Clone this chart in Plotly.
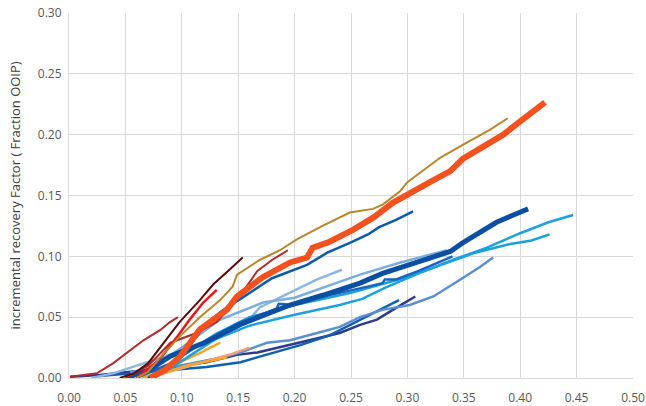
import plotly.graph_objects as go

# ---- data ----
A_x = [0.072, 0.085, 0.098, 0.116, 0.140, 0.149, 0.172, 0.196, 0.211, 0.216, 0.231, 0.252, 0.270, 0.287, 0.320, 0.338, 0.349, 0.364, 0.385, 0.400, 0.422]
A_y = [0.000, 0.0066, 0.017, 0.040, 0.056, 0.067, 0.083, 0.095, 0.099, 0.107, 0.112, 0.122, 0.132, 0.144, 0.161, 0.170, 0.180, 0.188, 0.200, 0.211, 0.2265]

B_x = [0.060, 0.070, 0.081, 0.098, 0.116, 0.134, 0.145, 0.149, 0.169, 0.187, 0.202, 0.2225, 0.249, 0.2695, 0.278, 0.293, 0.300, 0.329, 0.353, 0.373, 0.389]
B_y = [0.000, 0.005, 0.017, 0.034, 0.050, 0.064, 0.075, 0.085, 0.097, 0.105, 0.114, 0.124, 0.136, 0.139, 0.1425, 0.153, 0.161, 0.181, 0.1936, 0.204, 0.2135]

C_x = [0.045, 0.058, 0.070, 0.081, 0.090, 0.098, 0.116, 0.128, 0.141, 0.154]
C_y = [0.000, 0.004, 0.012, 0.025, 0.036, 0.046, 0.064, 0.077, 0.088, 0.099]

D_x = [0.060, 0.080, 0.096, 0.107, 0.119, 0.131]
D_y = [0.000, 0.015, 0.034, 0.048, 0.062, 0.0725]

E_x = [0.001, 0.025, 0.039, 0.051, 0.066, 0.081, 0.0895, 0.0966]
E_y = [0.001, 0.004, 0.012, 0.0206, 0.031, 0.0395, 0.046, 0.050]

F_x = [0.050, 0.070, 0.090, 0.113, 0.131, 0.143, 0.155, 0.167, 0.180, 0.194]
F_y = [0.000, 0.010, 0.029, 0.037, 0.046, 0.058, 0.072, 0.088, 0.097, 0.105]

G_x = [0.050, 0.070, 0.090, 0.120, 0.152, 0.196, 0.225, 0.258, 0.278, 0.308, 0.338, 0.349, 0.364, 0.379, 0.394, 0.407]
G_y = [0.000, 0.006, 0.018, 0.029, 0.044, 0.060, 0.068, 0.078, 0.086, 0.095, 0.104, 0.111, 0.119, 0.128, 0.134, 0.139]

H_x = [0.075, 0.090, 0.110, 0.130, 0.160, 0.200, 0.240, 0.260, 0.280, 0.310, 0.340, 0.370, 0.400, 0.425, 0.447]
H_y = [0.000, 0.008, 0.020, 0.032, 0.043, 0.052, 0.060, 0.065, 0.074, 0.086, 0.097, 0.107, 0.119, 0.128, 0.134]

I_x = [0.070, 0.100, 0.130, 0.160, 0.200, 0.250, 0.280, 0.300, 0.330, 0.360, 0.390, 0.410, 0.426]
I_y = [0.000, 0.018, 0.036, 0.050, 0.060, 0.070, 0.078, 0.083, 0.093, 0.103, 0.110, 0.113, 0.118]

J_x = [0.070, 0.090, 0.100, 0.122, 0.137, 0.154, 0.180, 0.211, 0.229, 0.249, 0.265, 0.275, 0.290, 0.305]
J_y = [0.000, 0.010, 0.018, 0.045, 0.056, 0.066, 0.082, 0.093, 0.103, 0.111, 0.118, 0.124, 0.130, 0.137]

K_x = [0.020, 0.040, 0.066, 0.100, 0.128, 0.160, 0.169, 0.196, 0.220, 0.242]
K_y = [0.000, 0.004, 0.012, 0.022, 0.031, 0.048, 0.058, 0.070, 0.081, 0.089]

L_x = [0.054, 0.098, 0.1365, 0.152, 0.1755, 0.196, 0.220, 0.240, 0.258, 0.278, 0.302, 0.323, 0.347, 0.364, 0.376]
L_y = [0.005, 0.010, 0.017, 0.021, 0.029, 0.031, 0.037, 0.042, 0.050, 0.056, 0.060, 0.067, 0.081, 0.091, 0.099]

M_x = [0.001, 0.027, 0.063, 0.092, 0.122, 0.149, 0.167, 0.187, 0.214, 0.240, 0.258, 0.273, 0.287, 0.307]
M_y = [0.001, 0.0025, 0.006, 0.009, 0.013, 0.019, 0.021, 0.0255, 0.031, 0.037, 0.0437, 0.048, 0.056, 0.067]

N_x = [0.027, 0.072, 0.122, 0.152, 0.1755, 0.205, 0.231, 0.258, 0.276, 0.2925]
N_y = [0.0016, 0.005, 0.009, 0.013, 0.019, 0.027, 0.035, 0.048, 0.056, 0.064]

O_x = [0.070, 0.100, 0.130, 0.145, 0.160]
O_y = [0.000, 0.008, 0.016, 0.020, 0.025]

P1_x = [0.065, 0.080, 0.096, 0.115, 0.134]
P1_y = [0.000, 0.005, 0.012, 0.020, 0.029]

P2_x = [0.070, 0.090, 0.107, 0.125, 0.140]
P2_y = [0.000, 0.006, 0.011, 0.014, 0.017]

R_x = [0.060, 0.100, 0.134, 0.172, 0.200, 0.258, 0.293, 0.335]
R_y = [0.000, 0.025, 0.048, 0.062, 0.066, 0.085, 0.0947, 0.105]

S_x = [0.060, 0.090, 0.120, 0.150, 0.184, 0.186, 0.200, 0.220, 0.250, 0.278, 0.280, 0.290, 0.310, 0.340]
S_y = [0.000, 0.012, 0.030, 0.045, 0.057, 0.061, 0.060, 0.066, 0.072, 0.078, 0.081, 0.081, 0.088, 0.100]

x_ticks = [0.0, 0.05, 0.10, 0.15, 0.20, 0.25, 0.30, 0.35, 0.40, 0.45, 0.50]
y_ticks = [0.0, 0.05, 0.10, 0.15, 0.20, 0.25, 0.30]
y_title = "incremental recovery Factor ( Fraction OOIP)"

# (x, y, colour, width) in drawing order
series = [
    (M_x, M_y, "#2E3A8C", 2.5),
    (N_x, N_y, "#1060B0", 2.5),
    (L_x, L_y, "#5B8FD0", 2.5),
    (O_x, O_y, "#F4A07A", 2.5),
    (P2_x, P2_y, "#F5A623", 2.5),
    (P1_x, P1_y, "#F5A623", 2.5),
    (K_x, K_y, "#8DB6E3", 2.5),
    (R_x, R_y, "#7AAEE0", 2.5),
    (I_x, I_y, "#1AA0DC", 2.5),
    (H_x, H_y, "#1DA1E0", 2.5),
    (S_x, S_y, "#1565C0", 2.5),
    (G_x, G_y, "#0B4EA2", 5),
    (J_x, J_y, "#0D5AAB", 2.5),
    (E_x, E_y, "#B22A2A", 2),
    (F_x, F_y, "#B22A2A", 2),
    (A_x, A_y, "#F4511E", 6),
    (D_x, D_y, "#E8191A", 2.5),
    (B_x, B_y, "#B8862B", 2),
    (C_x, C_y, "#5C0B0B", 2),
]

fig = go.Figure()
for xs, ys, col, w in series:
    fig.add_trace(go.Scatter(x=xs, y=ys, mode="lines",
                             line=dict(color=col, width=w),
                             showlegend=False, hoverinfo="skip"))

font_family = "Open Sans, Noto Sans, sans-serif"
axis_font = dict(family=font_family, size=12, color="#595959")
fig.update_layout(
    width=646, height=406,
    margin=dict(l=69, r=13, t=13, b=28, autoexpand=False),
    paper_bgcolor="white", plot_bgcolor="white",
    font=axis_font,
    xaxis=dict(range=[0, 0.5], tickvals=x_ticks, tickformat=".2f", automargin=False,
               showgrid=True, gridcolor="#D9D9D9", gridwidth=1,
               zeroline=False, showline=True, linecolor="#D9D9D9", linewidth=1,
               ticks="", tickfont=axis_font, ticklabelstandoff=9, fixedrange=True),
    yaxis=dict(range=[0, 0.3], tickvals=y_ticks, tickformat=".2f", automargin=False,
               showgrid=True, gridcolor="#D9D9D9", gridwidth=1,
               zeroline=False, showline=True, linecolor="#D9D9D9", linewidth=1,
               ticks="", tickfont=axis_font, ticklabelstandoff=4, fixedrange=True),
    annotations=[dict(text=y_title, xref="paper", yref="paper",
                      x=-55 / 564, y=0.5, xanchor="center", yanchor="middle",
                      textangle=-90, showarrow=False,
                      font=dict(family=font_family, size=13, color="#404040"))],
)
# remove the browser's default 8px body margin so the figure sits at the page origin
fig.write_html("out.html", config={"displayModeBar": False},
               post_script="document.body.style.margin='0';document.body.style.overflow='hidden';")
